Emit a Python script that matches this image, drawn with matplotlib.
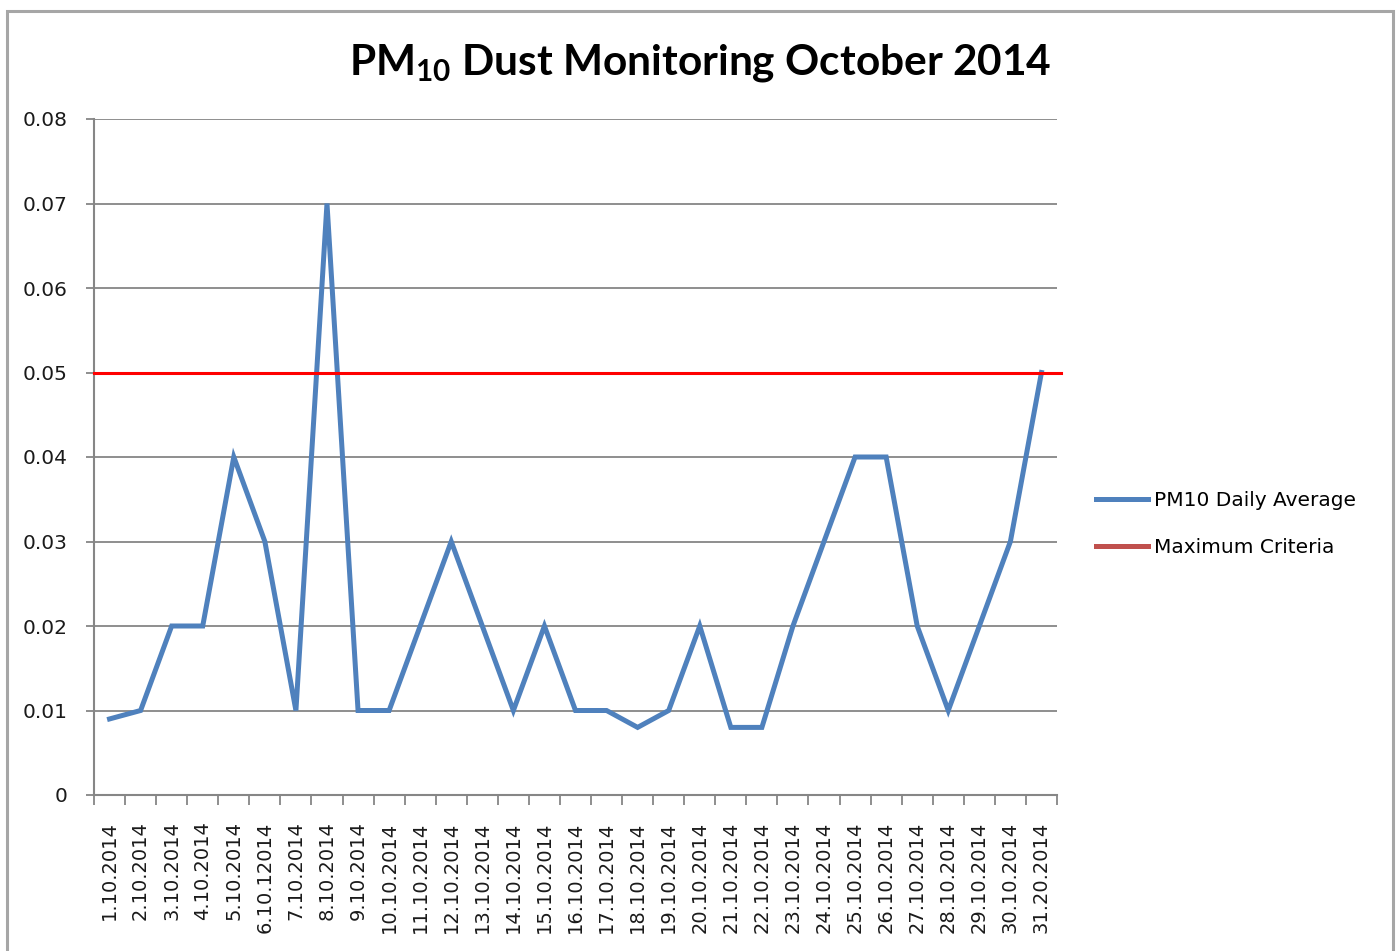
"""
PM10 dust monitoring chart, October 2014 (Excel-style line chart).
"""

import matplotlib

matplotlib.use("Agg")

import matplotlib.pyplot as plt
from matplotlib.lines import Line2D
from matplotlib.patches import Rectangle

# ── Data ──────────────────────────────────────────────────────────────────────
dates = [
    "1.10.2014", "2.10.2014", "3.10.2014", "4.10.2014", "5.10.2014",
    "6.10.12014", "7.10.2014", "8.10.2014", "9.10.2014", "10.10.2014",
    "11.10.2014", "12.10.2014", "13.10.2014", "14.10.2014", "15.10.2014",
    "16.10.2014", "17.10.2014", "18.10.2014", "19.10.2014", "20.10.2014",
    "21.10.2014", "22.10.2014", "23.10.2014", "24.10.2014", "25.10.2014",
    "26.10.2014", "27.10.2014", "28.10.2014", "29.10.2014", "30.10.2014",
    "31.20.2014",
]
pm10_daily = [
    0.009, 0.01, 0.02, 0.02, 0.04, 0.03, 0.01, 0.07, 0.01, 0.01,
    0.02, 0.03, 0.02, 0.01, 0.02, 0.01, 0.01, 0.008, 0.01, 0.02,
    0.008, 0.008, 0.02, 0.03, 0.04, 0.04, 0.02, 0.01, 0.02, 0.03,
    0.05,
]
max_criteria = 0.05
y_ticks = [0, 0.01, 0.02, 0.03, 0.04, 0.05, 0.06, 0.07, 0.08]
y_labels = ["0", "0.01", "0.02", "0.03", "0.04", "0.05", "0.06", "0.07", "0.08"]

BLUE = "#4F81BD"
RED = "#FF0000"
RED_LEGEND = "#C0504D"
GRID = "#868686"

W, H = 1400, 951
fig = plt.figure(figsize=(W / 100, H / 100), dpi=100)
fig.patch.set_facecolor("white")

# chart-area border
fig.patches.append(Rectangle((7 / W, -0.02), (1393 - 7) / W, 1 - 11 / H + 0.02,
                             transform=fig.transFigure, fill=False,
                             edgecolor="#A6A6A6", linewidth=2.2))

ax = fig.add_axes([94 / W, 1 - 795 / H, (1057 - 94) / W, (795 - 119) / H])

x = list(range(1, len(dates) + 1))
ax.plot(x, pm10_daily, color=BLUE, linewidth=3.6, solid_joinstyle="miter", zorder=3)
ax.axhline(max_criteria, xmin=0, xmax=1.004, color=RED, linewidth=2.2,
           clip_on=False, zorder=4)

ax.set_xlim(0.5, len(dates) + 0.5)
ax.set_ylim(0, 0.08)

# y axis
ax.set_yticks(y_ticks)
ax.set_yticklabels(y_labels)
ax.yaxis.grid(True, color=GRID, linewidth=1.3)
ax.set_axisbelow(True)
ax.tick_params(axis="y", length=6, width=1.3, color=GRID, pad=13,
               labelsize=14.5, labelcolor="#1a1a1a")

# x axis: labels at categories, tick marks on boundaries
ax.set_xticks(x)
ax.set_xticklabels(dates, rotation=90, va="top", ha="center")
ax.set_xticks([i + 0.5 for i in range(len(dates) + 1)], minor=True)
ax.tick_params(axis="x", which="major", length=0, pad=19,
               labelsize=14, labelcolor="#1a1a1a")
ax.tick_params(axis="x", which="minor", length=7, width=1.3, color=GRID)

for side in ("top", "right"):
    ax.spines[side].set_visible(False)
for side in ("left", "bottom"):
    ax.spines[side].set_color(GRID)
    ax.spines[side].set_linewidth(1.5)

# title
plt.rcParams["mathtext.fontset"] = "custom"
plt.rcParams["mathtext.rm"] = "Lato:bold"
fig.text(700 / W, 1 - 63 / H, r"PM$_{\mathrm{10}}$ Dust Monitoring October 2014",
         ha="center", va="center", fontsize=30.5, fontweight="bold",
         family="Lato", color="black")

# legend
handles = [
    Line2D([], [], color=BLUE, linewidth=3.6),
    Line2D([], [], color=RED_LEGEND, linewidth=3.6),
]
fig.legend(handles, ["PM10 Daily Average", "Maximum Criteria"],
           loc="center left", bbox_to_anchor=(1088 / W, 1 - 524 / H),
           frameon=False, fontsize=14.5, handlelength=2.6, handletextpad=0.3,
           labelspacing=1.4, borderaxespad=0)

fig.savefig("out.png", dpi=100)
